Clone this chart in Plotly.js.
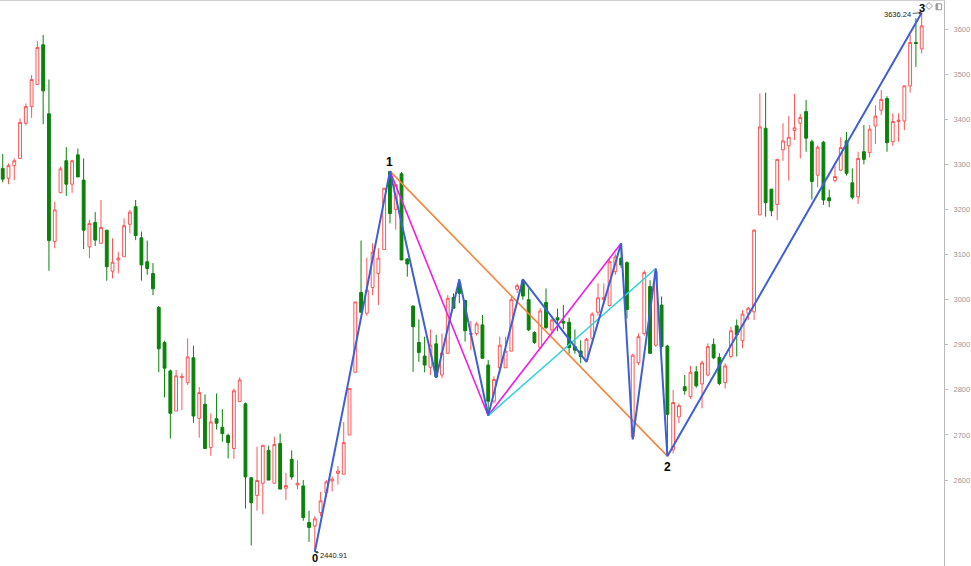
<!DOCTYPE html>
<html>
<head>
<meta charset="utf-8">
<script src="https://cdn.plot.ly/plotly-3.0.1.min.js"></script>
<style>
html,body{margin:0;padding:0;background:#fff;}
#chart{width:971px;height:566px;}
</style>
</head>
<body>
<div id="chart"></div>
<script>
var openP = [3291,3269,3297,3313,3391,3428,3477,3565,3412,3129,
3237,3308,3256,3321,3265,3117,3171,3125,3154,3063,
3088,3095,3167,3206,3137,3084,3058,2983,2905,2842,
2753,2827,2816,2871,2737,2768,2672,2736,2717,2699,
2670,2774,2769,2605,2566,2593,2666,2593,2681,2582,
2646,2589,2587,2506,2498,2528,2572,2598,2615,2613,
2700,2839,3016,2970,3027,3058,3111,3284,3200,3279,
3090,2986,2905,2875,2850,2902,2833,2881,3005,3036,
2998,2923,2925,2944,2855,2775,2849,2849,2886,3023,
3042,3000,2927,2894,2994,2933,2960,2952,2950,2896,
2886,2866,2914,2972,3000,2987,3062,3092,3082,2696,
2860,2925,3029,2899,2988,2897,2667,2740,2807,2785,
2840,2813,2833,2901,2872,2816,2874,2942,2909,2970,
2973,3188,3380,3245,3211,3332,3341,3375,3391,3417,
3350,3276,3349,3226,3264,3287,3352,3259,3228,3328,
3326,3385,3420,3446,3350,3395,3396,3474,3570,3556];

var highP = [3323,3302,3313,3402,3435,3498,3573,3587,3488,3217,
3295,3338,3310,3335,3313,3177,3194,3221,3154,3136,
3106,3180,3199,3221,3151,3131,3081,2986,2909,2845,
2844,2837,2914,2898,2806,2790,2748,2792,2757,2703,
2803,2828,2772,2607,2674,2677,2676,2696,2703,2616,
2666,2644,2600,2532,2520,2574,2600,2608,2631,2729,
2803,2995,3131,3093,3125,3114,3247,3285,3255,3283,
3092,2986,2956,2918,2934,2922,2925,3010,3014,3045,
3000,2953,2951,2966,2866,2830,2918,2918,3007,3036,
3045,3025,2930,2981,3025,2958,2980,2988,2960,2934,
2910,2915,2972,3036,3036,3090,3102,3125,3085,2880,
2925,3065,3043,3069,3007,2900,2800,2770,2833,2853,
2853,2865,2903,2914,2881,2859,2940,2956,2977,2984,
3156,3457,3459,3245,3311,3391,3407,3456,3412,3443,
3355,3342,3352,3244,3296,3360,3372,3291,3328,3387,
3387,3431,3465,3451,3413,3413,3474,3587,3624,3636.24];

var lowP = [3260,3256,3265,3313,3386,3403,3477,3389,3064,3114,
3236,3230,3237,3272,3112,3092,3119,3125,3042,3047,
3058,3095,3147,3132,3042,3055,3010,2839,2783,2692,
2753,2755,2811,2727,2694,2670,2654,2712,2685,2648,
2647,2774,2537,2455,2532,2524,2600,2593,2580,2556,
2601,2580,2510,2463,2440.91,2520,2562,2575,2590,2613,
2700,2839,2972,2964,3010,2988,3111,3169,3155,3088,
3051,2840,2862,2839,2833,2827,2826,2881,2981,2992,
2907,2888,2920,2870,2743,2770,2836,2849,2886,3015,
3000,2930,2902,2890,2935,2925,2930,2935,2880,2880,
2859,2862,2910,2965,2990,2985,3055,3070,2958,2690,
2855,2920,2880,2895,2890,2653,2659,2726,2789,2780,
2805,2759,2830,2868,2810,2803,2870,2874,2892,2955,
2955,3188,3184,3185,3176,3308,3264,3354,3313,3328,
3222,3249,3210,3205,3260,3285,3275,3222,3212,3300,
3315,3345,3409,3328,3341,3350,3376,3459,3516,3546];

var closeP = [3267,3297,3308,3393,3428,3488,3559,3463,3131,3199,
3290,3256,3308,3272,3154,3169,3132,3160,3073,3083,
3092,3164,3194,3142,3077,3069,3024,2891,2848,2748,
2831,2830,2873,2742,2794,2670,2729,2726,2703,2683,
2798,2822,2607,2550,2599,2677,2600,2679,2580,2588,
2607,2593,2517,2495,2514,2554,2596,2602,2620,2683,
2803,2995,2972,3021,3105,3092,3247,3191,3255,3088,
3079,2940,2883,2855,2899,2829,2882,3003,2981,3014,
2931,2925,2946,2870,2775,2823,2899,2886,3000,3031,
3008,2933,2905,2975,2938,2955,2955,2948,2894,2888,
2874,2912,2968,3004,3005,3084,3095,3077,2978,2877,
2918,3060,2881,3062,2896,2746,2772,2765,2798,2839,
2809,2860,2896,2871,2814,2853,2931,2922,2968,2981,
3154,3383,3215,3197,3311,3352,3360,3381,3404,3358,
3262,3338,3221,3219,3273,3337,3280,3227,3313,3311,
3378,3407,3444,3348,3395,3398,3474,3570,3568,3607];

// Pattern pivots (bar index, price)
var waveX = [55, 68, 76, 80, 85, 91, 102, 108, 110, 114, 116, 160];
var waveY = [2440.91, 3285, 2827, 3045, 2743, 3045, 2862, 3125, 2690, 3069, 2653, 3636.24];
var orangeX = [68, 116];
var orangeY = [3285, 2653];
var magentaX = [68, 85, 108];
var magentaY = [3285, 2743, 3125];
var cyanX = [85, 114];
var cyanY = [2743, 3069];

var pivotLabels = ['0', '1', '2', '3'];
var pivotX = [55, 68, 116, 160];
var pivotY = [2440.91, 3285, 2653, 3636.24];
var pivotPos = ['below', 'above', 'below', 'above'];

var tickVals = [2600, 2700, 2800, 2900, 3000, 3100, 3200, 3300, 3400, 3500, 3600];

var idx = openP.map(function(_, i){ return i + 1; });

var traces = [
  {
    type: 'candlestick',
    x: idx, open: openP, high: highP, low: lowP, close: closeP,
    increasing: {line: {color: '#ff5555', width: 1}, fillcolor: '#ffffff'},
    decreasing: {line: {color: '#0a820a', width: 1}, fillcolor: '#0a820a'},
    whiskerwidth: 0,
    hoverinfo: 'skip',
    showlegend: false
  },
  {type: 'scatter', mode: 'lines', x: orangeX, y: orangeY,
   line: {color: '#f5843c', width: 1.6}, hoverinfo: 'skip', showlegend: false},
  {type: 'scatter', mode: 'lines', x: magentaX, y: magentaY,
   line: {color: '#ee1ee8', width: 1.6}, hoverinfo: 'skip', showlegend: false},
  {type: 'scatter', mode: 'lines', x: cyanX, y: cyanY,
   line: {color: '#2fd3dc', width: 1.6}, hoverinfo: 'skip', showlegend: false},
  {type: 'scatter', mode: 'lines', x: waveX, y: waveY,
   line: {color: '#3f5fd6', width: 2}, hoverinfo: 'skip', showlegend: false}
];

var annotations = pivotLabels.map(function(t, i){
  var below = pivotPos[i] === 'below';
  var edge = (i === 0 || i === 3);
  return {
    x: pivotX[i], y: pivotY[i], xref: 'x', yref: 'y',
    text: '<b>' + t + '</b>', showarrow: false,
    yanchor: below ? 'top' : 'bottom',
    yshift: edge ? (below ? 1 : -2) : (below ? -3 : 1),
    borderpad: 0,
    font: {family: 'Liberation Sans, Arial, sans-serif', size: edge ? 11 : 12, color: '#000'}
  };
});
annotations.push({
  x: pivotX[0], y: pivotY[0], xref: 'x', yref: 'y',
  text: pivotY[0].toFixed(2), showarrow: true, arrowhead: 2, arrowsize: 0.7,
  arrowwidth: 0.8, arrowcolor: '#333', ax: 19, ay: 4, standoff: 0,
  font: {family: 'Liberation Sans, Arial, sans-serif', size: 7.5, color: '#222'}
});
annotations.push({
  x: pivotX[3], y: pivotY[3], xref: 'x', yref: 'y',
  text: pivotY[3].toFixed(2), showarrow: true, arrowhead: 2, arrowsize: 0.7,
  arrowwidth: 0.8, arrowcolor: '#333', ax: -24, ay: 2, standoff: 0,
  font: {family: 'Liberation Sans, Arial, sans-serif', size: 7.5, color: '#222'}
});

// small toolbar icons at the top right of the plot (decoration)
var shapes = [
  {type: 'path', xref: 'paper', yref: 'paper',
   path: 'M 0.9805 0.9912 L 0.9841 0.9974 L 0.9878 0.9912 L 0.9841 0.9850 Z',
   line: {color: '#999', width: 1}, fillcolor: 'rgba(0,0,0,0)'},
  {type: 'rect', xref: 'paper', yref: 'paper',
   x0: 0.9915, x1: 0.9975, y0: 0.9845, y1: 0.9950,
   line: {color: '#999', width: 1}, fillcolor: 'rgba(0,0,0,0)'},
  {type: 'rect', xref: 'paper', yref: 'paper',
   x0: 0.9915, x1: 0.9937, y0: 0.9845, y1: 0.9950,
   line: {width: 0}, fillcolor: '#999'}
];

var layout = {
  width: 971, height: 566,
  margin: {l: 0, r: 27, t: 1, b: 0, pad: 0},
  paper_bgcolor: '#ffffff', plot_bgcolor: '#ffffff',
  showlegend: false, hovermode: false, boxgap: 0.3,
  xaxis: {
    range: [0.53, 163.86], side: 'top',
    showline: true, linecolor: '#cfcfcf', linewidth: 1,
    showgrid: false, zeroline: false, showticklabels: false, ticks: '',
    rangeslider: {visible: false}, fixedrange: true
  },
  yaxis: {
    range: [2409.5, 3662.1], side: 'right',
    tickvals: tickVals, ticktext: tickVals.map(String),
    ticks: 'outside', ticklen: 3, tickcolor: '#bbbbbb', tickwidth: 1,
    showline: true, linecolor: '#bbbbbb', linewidth: 1,
    showgrid: false, zeroline: false, ticklabelstandoff: 4,
    tickfont: {family: 'Liberation Sans, Arial, sans-serif', size: 7.5, color: '#999999'},
    fixedrange: true
  },
  shapes: shapes,
  annotations: annotations
};

Plotly.newPlot('chart', traces, layout, {displayModeBar: false, staticPlot: true});
</script>
</body>
</html>
